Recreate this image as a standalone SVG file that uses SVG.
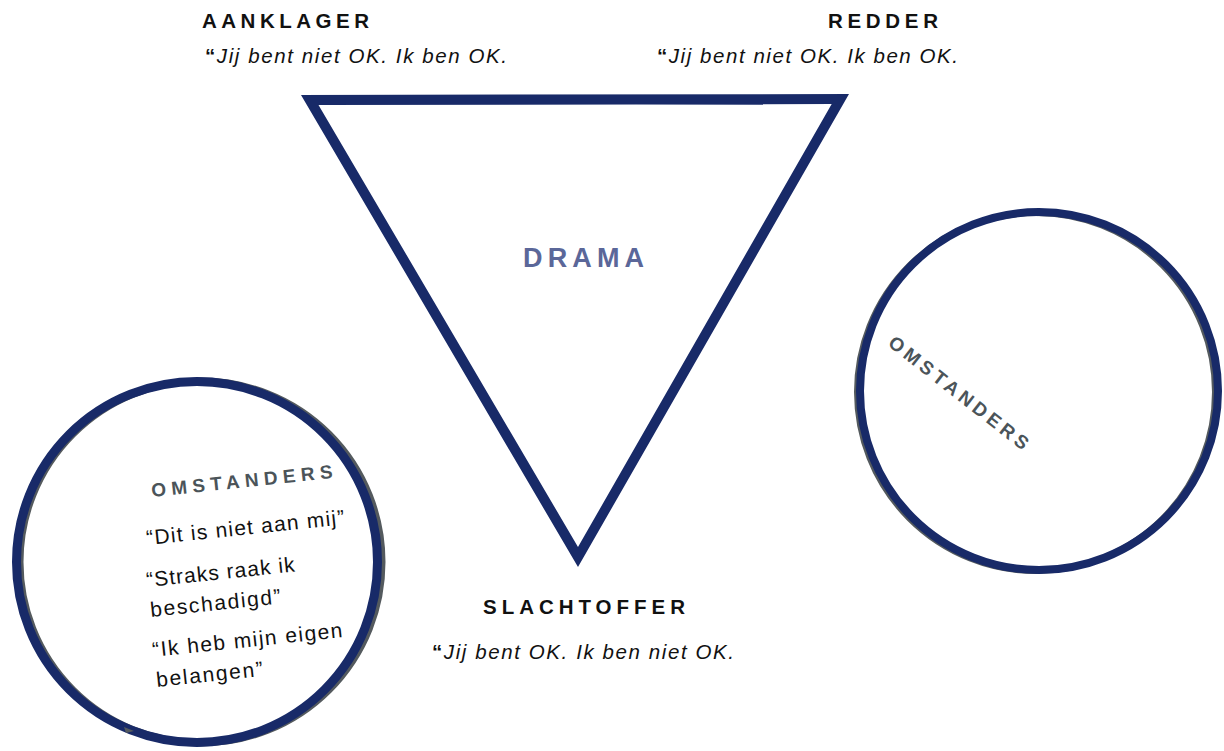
<svg xmlns="http://www.w3.org/2000/svg" width="1224" height="751" viewBox="0 0 1224 751">
<style>
.h{font-family:"Liberation Sans",Arial,sans-serif;font-weight:bold;font-size:20.5px;fill:#111;}
.q{font-family:"Liberation Sans",Arial,sans-serif;font-style:italic;font-size:20.5px;fill:#111;}
.qb{font-weight:bold;font-style:normal;}
.om{font-family:"Liberation Sans",Arial,sans-serif;font-weight:bold;font-size:19px;fill:#4b5459;}
.t{font-family:"Liberation Sans",Arial,sans-serif;font-size:21px;fill:#111;}
.navy{fill:none;stroke:#182a68;}
.shadow{fill:none;stroke:#545a5e;}
</style>
<rect width="1224" height="751" fill="#fff"/>
<g id="triangle">
<path fill="#182a68" fill-rule="evenodd" d="M301,95 L849,94 L578,567 Z M318.5,105 L831.7,104 L578,547 Z"/>
<text x="523" y="267" font-family="Liberation Sans, Arial, sans-serif" font-weight="bold" font-size="27" fill="#5b6799" textLength="121" lengthAdjust="spacing">DRAMA</text>
</g>
<g id="aanklager">
<text class="h" x="202" y="28" textLength="167" lengthAdjust="spacing">AANKLAGER</text>
<text class="q" x="205" y="63" textLength="302" lengthAdjust="spacing"><tspan class="qb">“</tspan>Jij bent niet OK. Ik ben OK.</text>
</g>
<g id="redder">
<text class="h" x="828" y="28" textLength="110" lengthAdjust="spacing">REDDER</text>
<text class="q" x="657" y="63" textLength="301" lengthAdjust="spacing"><tspan class="qb">“</tspan>Jij bent niet OK. Ik ben OK.</text>
</g>
<g id="slachtoffer">
<text class="h" x="483" y="614" textLength="202" lengthAdjust="spacing">SLACHTOFFER</text>
<text class="q" x="432" y="659" textLength="302" lengthAdjust="spacing"><tspan class="qb">“</tspan>Jij bent OK. Ik ben niet OK.</text>
</g>
<g id="omstanders-left">
<circle class="shadow" cx="201" cy="562" r="181" stroke-width="7"/>
<circle class="navy" cx="197" cy="562" r="180.5" stroke-width="9"/>
<path d="M124,727 L134,731 L126,733 Z" fill="#545a5e"/>
<text class="om" x="152" y="497" transform="rotate(-6 152 497)" textLength="182" lengthAdjust="spacing">OMSTANDERS</text>
<text class="t" x="147" y="545" transform="rotate(-6 147 545)" textLength="199" lengthAdjust="spacing">“Dit is niet aan mij”</text>
<text class="t" x="147" y="587" transform="rotate(-6 147 587)" textLength="149" lengthAdjust="spacing">“Straks raak ik</text>
<text class="t" x="151" y="617" transform="rotate(-6 151 617)" textLength="131" lengthAdjust="spacing">beschadigd”</text>
<text class="t" x="153" y="657" transform="rotate(-6 153 657)" textLength="191" lengthAdjust="spacing">“Ik heb mijn eigen</text>
<text class="t" x="157" y="687" transform="rotate(-6 157 687)" textLength="107" lengthAdjust="spacing">belangen”</text>
</g>
<g id="omstanders-right">
<circle class="shadow" cx="1036" cy="392" r="179" stroke-width="6"/>
<circle class="navy" cx="1039" cy="391" r="179" stroke-width="8"/>
<text class="om" x="887" y="345" transform="rotate(38 887 345)" textLength="172" lengthAdjust="spacing">OMSTANDERS</text>
</g>
</svg>
